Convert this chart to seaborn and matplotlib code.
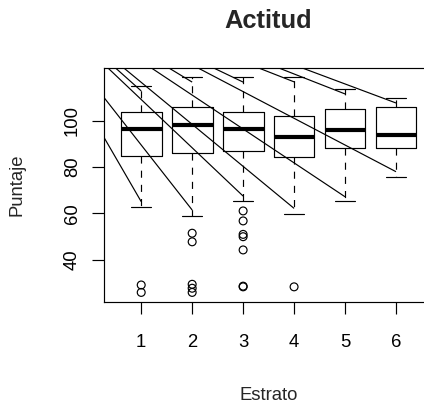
import matplotlib
matplotlib.use("Agg")
import matplotlib.pyplot as plt
import seaborn as sns
import numpy as np
import pandas as pd

# ---- data ----
estratos = [1, 2, 3, 4, 5, 6]
whisker_lo = [62.9, 58.9, 65.3, 59.9, 65.3, 75.7]
q1 = [84.8, 86.2, 86.8, 84.2, 88.1, 88.1]
medians = [96.6, 98.3, 96.6, 93.1, 96.0, 93.7]
q3 = [103.75, 105.9, 103.75, 102.0, 104.9, 106.0]
whisker_hi = [115.0, 118.8, 118.8, 119.0, 113.7, 109.9]

outlier_estrato = [1, 1, 2, 2, 2, 2, 2, 3, 3, 3, 3, 3, 3, 3, 4]
outlier_puntaje = [29.2, 26.0, 51.5, 47.8, 29.5, 27.8, 26.0,
                   61.1, 56.8, 51.0, 50.0, 44.3, 28.4, 28.7, 28.4]

# diagonal line segments (end value at each estrato and slope in data units)
lower_line_end = [65.1, 61.5, 67.5, 62.2, 67.2, 78.0]
lower_line_slope = [-37.9, -28.0, -20.8, -18.1, -14.6, -11.5]
upper_line_end = [112.8, 116.6, 116.6, 116.7, 111.5, 107.6]
upper_line_slope = [-19.6, -13.3, -10.5, -8.6, -8.6, -8.2]

yticks = [40, 60, 80, 100]
title = "Actitud"
xlabel = "Estrato"
ylabel = "Puntaje"

# ---- styling ----
sns.set_style("white")
plt.rcParams['font.family'] = ['Liberation Sans', 'DejaVu Sans']

W, H = 424, 403
fig = plt.figure(figsize=(W / 100, H / 100), dpi=100)
left, right_px, top, bottom = 103.5, 433.7, 67.7, 301.7
ax = fig.add_axes([left / W, 1 - bottom / H, (right_px - left) / W, (bottom - top) / H])

lw = 0.85
stats = []
for i in range(len(estratos)):
    stats.append(dict(med=medians[i], q1=q1[i], q3=q3[i],
                      whislo=whisker_lo[i], whishi=whisker_hi[i], fliers=[]))
ax.bxp(stats, positions=estratos, widths=0.8, showfliers=False, patch_artist=False,
       boxprops=dict(color='black', linewidth=lw),
       medianprops=dict(color='black', linewidth=3.0, solid_capstyle='butt'),
       whiskerprops=dict(color='black', linewidth=lw, linestyle=(0, (6, 6))),
       capprops=dict(color='black', linewidth=lw),
       capwidths=0.4)

df_out = pd.DataFrame({"Estrato": outlier_estrato, "Puntaje": outlier_puntaje})
sns.scatterplot(data=df_out, x="Estrato", y="Puntaje", ax=ax, marker='o', s=32,
                facecolor='none', edgecolor='black', linewidth=0.85, legend=False, zorder=3)

x_far = -3.0
for xs, ends, slopes in [(estratos, lower_line_end, lower_line_slope),
                         (estratos, upper_line_end, upper_line_slope)]:
    for xe, ye, m in zip(xs, ends, slopes):
        ax.plot([x_far, xe], [ye + m * (x_far - xe), ye], color='black', linewidth=lw,
                solid_capstyle='butt', zorder=2)

ax.set_xlim(0.26, 6.74)
ax.set_ylim(22.0, 122.8)
ax.set_xticks(estratos)
ax.set_xticklabels([str(e) for e in estratos])
ax.set_yticks(yticks)
ax.set_yticklabels([str(v) for v in yticks], rotation=90, va='center')
ax.set_xlabel("")
ax.set_ylabel("")
ax.tick_params(axis='both', direction='out', length=8.3, width=lw, color='black',
               labelsize=13.3, labelcolor='black', bottom=True, left=True)
ax.tick_params(axis='x', pad=15)
ax.tick_params(axis='y', pad=8)
for s in ax.spines.values():
    s.set_color('black')
    s.set_linewidth(lw)

ax.set_title(title, fontsize=18.4, fontweight='bold', pad=28.4)
fig.text(268.6 / W, 1 - 400 / H, xlabel, ha='center', va='baseline', fontsize=13.3)
fig.text(17 / W, 1 - 185 / H, ylabel, ha='center', va='center', rotation=90,
         fontsize=13.3)

fig.savefig("out.png", dpi=100)
